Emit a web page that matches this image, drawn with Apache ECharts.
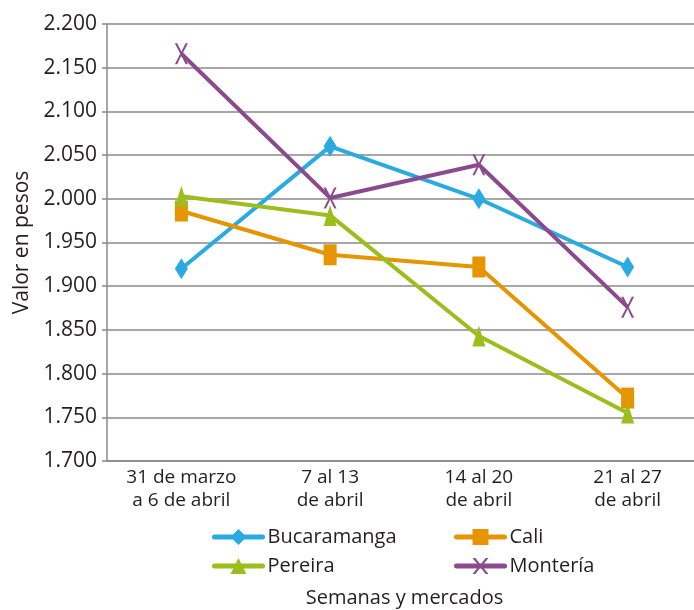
<!DOCTYPE html>
<html><head><meta charset="utf-8">
<script src="https://cdn.jsdelivr.net/npm/echarts@6/dist/echarts.min.js"></script>
<style>html,body{margin:0;padding:0;background:#fff;overflow:hidden}#c{width:694px;height:610px}</style>
</head><body><div id="c"></div>
<script>
const categories = ['31 de marzo\na 6 de abril', '7 al 13\nde abril', '14 al 20\nde abril', '21 al 27\nde abril'];
const bucaramanga = [1920, 2060, 2000, 1922];
const cali = [1986, 1936, 1922, 1772];
const pereira = [2003, 1981, 1843, 1755];
const monteria = [2166, 2001, 2039, 1876];
const seriesNames = ['Bucaramanga', 'Cali', 'Pereira', 'Montería'];
const colors = ['#29ABE2', '#E69500', '#9BBE1C', '#8B4A8E'];

const FONT = '"Open Sans", "DejaVu Sans", sans-serif';
const TXT = '#231f20';
const xPath = 'path://M0,0L1.8,0L5,4.1L8.2,0L10,0L5.9,5L10,10L8.2,10L5,5.9L1.8,10L0,10L4.1,5Z';
const symbols = ['diamond', 'rect', 'triangle', xPath];
const dataSets = [bucaramanga, cali, pereira, monteria];

const legendBase = {
  orient: 'vertical', top: 527, padding: 0,
  itemWidth: 48, itemHeight: 20, itemGap: 9,
  lineStyle: { width: 5, cap: 'round' },
  textStyle: { fontSize: 20, color: TXT, fontFamily: FONT }
};

const chart = echarts.init(document.getElementById('c'));
chart.setOption({
  animation: false,
  color: colors,
  textStyle: { fontFamily: FONT, color: TXT },
  grid: { left: 107, right: -8, top: 24, bottom: 149, containLabel: false, outerBoundsMode: 'none' },
  legend: [
    Object.assign({ data: ['Bucaramanga', 'Pereira'], left: 212 }, legendBase),
    Object.assign({ data: ['Cali', 'Montería'], left: 454 }, legendBase)
  ],
  xAxis: {
    type: 'category', data: categories, boundaryGap: true,
    name: 'Semanas y mercados', nameLocation: 'middle', nameGap: 127,
    nameTextStyle: { fontSize: 20, color: TXT, fontFamily: FONT },
    axisLine: { lineStyle: { color: '#8a8a8a', width: 1.5 } },
    axisTick: { show: false },
    axisLabel: { fontSize: 19, color: TXT, lineHeight: 23, margin: 5, fontFamily: FONT }
  },
  yAxis: {
    type: 'value', min: 1700, max: 2200, interval: 50,
    name: 'Valor en pesos', nameLocation: 'middle', nameGap: 73,
    nameTextStyle: { fontSize: 21, color: TXT, fontFamily: FONT },
    axisLine: { show: true, lineStyle: { color: '#8a8a8a', width: 1.5 } },
    axisTick: { show: true, length: 5, lineStyle: { color: '#8a8a8a', width: 1.5 } },
    splitLine: { lineStyle: { color: '#8a8a8a', width: 1.5 } },
    axisLabel: { fontSize: 21, color: TXT, margin: 10, fontFamily: FONT,
      formatter: v => Math.floor(v / 1000) + '.' + String(v % 1000).padStart(3, '0') }
  },
  series: seriesNames.map((n, i) => ({
    name: n, type: 'line', data: dataSets[i],
    symbol: symbols[i], symbolSize: [13, 21], symbolKeepAspect: false,
    lineStyle: { width: 4, color: colors[i] },
    itemStyle: { color: colors[i] }
  }))
});
</script></body></html>
